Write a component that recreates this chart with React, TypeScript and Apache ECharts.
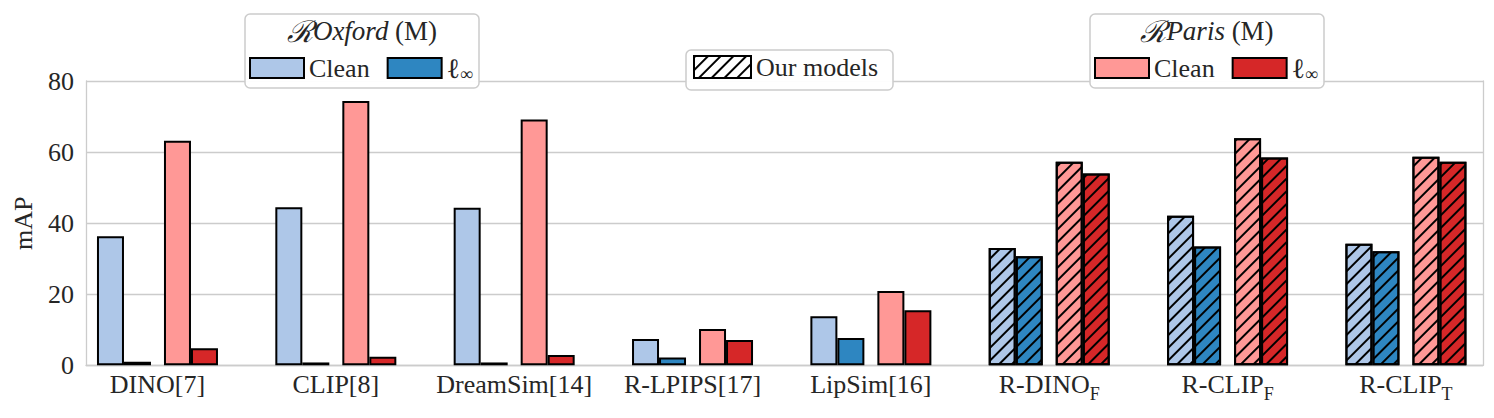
import React, { useEffect, useRef } from 'react';
import * as echarts from 'echarts';

const categories = ['DINO[7]', 'CLIP[8]', 'DreamSim[14]', 'R-LPIPS[17]', 'LipSim[16]', 'R-DINO_F', 'R-CLIP_F', 'R-CLIP_T'];
const oxfordClean = [36.3, 44.5, 44.3, 7.4, 13.8, 33.0, 42.1, 34.2];
const oxfordLinf = [1.0, 0.8, 0.8, 2.2, 7.7, 30.7, 33.4, 32.1];
const parisClean = [63.2, 74.4, 69.2, 10.2, 20.9, 57.3, 63.9, 58.7];
const parisLinf = [4.8, 2.4, 2.9, 7.1, 15.5, 54.0, 58.5, 57.3];
const isOurModel = [false, false, false, false, false, true, true, true];
const yMin = 0;
const yMax = 80;
const yInterval = 20;

const FONT = "'Liberation Serif', 'DejaVu Serif', serif";
const TEXT = '#262626';
const GRID = '#cccccc';
const LIGHT_BLUE = '#aec7e8';
const BLUE = '#2e86c1';
const LIGHT_RED = '#ff9896';
const RED = '#d62728';

const hatch = {
  symbol: 'rect',
  symbolSize: 1,
  dashArrayX: [1, 0],
  dashArrayY: [2, 7],
  rotation: -Math.PI / 4,
  color: '#000',
};

function toData(vals: number[]) {
  return vals.map((v, i) => (isOurModel[i] ? { value: v, itemStyle: { decal: hatch } } : { value: v }));
}

export default function App() {
  const ref = useRef<HTMLDivElement>(null);
  useEffect(() => {
    if (!ref.current) return;
    const chart = echarts.init(ref.current, undefined, { renderer: 'svg' });
    const barBase = {
      type: 'bar',
      xAxisIndex: 0,
      yAxisIndex: 0,
      barWidth: 27,
      barGap: '0%',
    };
    const border = { borderColor: '#000', borderWidth: 2 };
    const legendText = {
      fontSize: 26,
      fontFamily: FONT,
      color: TEXT,
      rich: {
        l: { fontSize: 28, fontFamily: FONT, color: TEXT },
        sub: { fontSize: 18, fontFamily: FONT, color: TEXT, padding: [12, 0, 0, 0] },
      },
    };
    const legendFmt = (name: string) => (name.endsWith('Clean') ? 'Clean' : '{l|ℓ}{sub|∞}');
    const titleRich = {
      cal: { fontSize: 30, fontFamily: "'DejaVu Serif', serif", fontStyle: 'italic', fill: TEXT },
      it: { fontSize: 27, fontFamily: FONT, fontStyle: 'italic', fill: TEXT },
      rm: { fontSize: 27, fontFamily: FONT, fill: TEXT },
    };
    const option: any = {
      animation: false,
      backgroundColor: '#fff',
      grid: [
        { left: 68.3, top: 81, width: 1426.8, height: 284.3, outerBoundsMode: 'none' },
        { left: 86, top: 81, width: 1397, height: 284.3, outerBoundsMode: 'none' },
      ],
      xAxis: [
        {
          type: 'category',
          gridIndex: 0,
          data: categories,
          axisLine: { show: false },
          axisTick: { show: false },
          splitLine: { show: false },
          axisLabel: {
            interval: 0,
            margin: 0,
            fontSize: 26,
            fontFamily: FONT,
            color: TEXT,
            lineHeight: 38,
            formatter: (v: string) => {
              const parts = v.split('_');
              return parts.length > 1 ? `${parts[0]}{sub|${parts[1]}}` : v;
            },
            rich: { sub: { fontSize: 18, fontFamily: FONT, color: TEXT, padding: [19, 0, 0, 0] } },
          },
        },
        {
          type: 'value',
          gridIndex: 1,
          min: 0,
          max: 1,
          axisLine: { show: true, lineStyle: { color: GRID, width: 1.3 } },
          axisTick: { show: false },
          axisLabel: { show: false },
          splitLine: { show: false },
        },
      ],
      yAxis: [
        { type: 'value', gridIndex: 0, min: yMin, max: yMax, interval: yInterval, show: false, splitLine: { show: false } },
        {
          type: 'value',
          gridIndex: 1,
          min: yMin,
          max: yMax,
          interval: yInterval,
          axisLine: { show: true, lineStyle: { color: GRID, width: 1.3 } },
          axisTick: { show: false },
          axisLabel: { fontSize: 26, fontFamily: FONT, color: TEXT, margin: 12 },
          splitLine: { show: true, lineStyle: { color: GRID, width: 1.3 } },
          name: 'mAP',
          nameLocation: 'middle',
          nameGap: 50,
          nameRotate: 90,
          nameTextStyle: { fontSize: 26, fontFamily: FONT, color: TEXT },
        },
        {
          type: 'value',
          gridIndex: 1,
          position: 'right',
          min: yMin,
          max: yMax,
          interval: yInterval,
          axisLine: { show: true, lineStyle: { color: GRID, width: 1.3 } },
          axisTick: { show: false },
          axisLabel: { show: false },
          splitLine: { show: false },
        },
      ],
      legend: [
        {
          data: ['Oxford Clean', 'Oxford ℓ∞'],
          left: 249,
          top: 54,
          padding: 0,
          itemWidth: 54,
          itemHeight: 20,
          itemGap: 17,
          icon: 'rect',
          selectedMode: false,
          z: 20,
          formatter: legendFmt,
          textStyle: legendText,
        },
        {
          data: ['Our models'],
          left: 693,
          top: 54,
          padding: 0,
          itemWidth: 57,
          itemHeight: 22,
          icon: 'rect',
          selectedMode: false,
          z: 20,
          textStyle: legendText,
        },
        {
          data: ['Paris Clean', 'Paris ℓ∞'],
          left: 1094,
          top: 54,
          padding: 0,
          itemWidth: 54,
          itemHeight: 20,
          itemGap: 17,
          icon: 'rect',
          selectedMode: false,
          z: 20,
          formatter: legendFmt,
          textStyle: legendText,
        },
      ],
      graphic: [
        {
          type: 'rect',
          z: 10,
          shape: { x: 245, y: 14, width: 234, height: 74, r: 5 },
          style: { fill: 'rgba(255,255,255,0.95)', stroke: GRID, lineWidth: 1.5 },
        },
        {
          type: 'text',
          z: 11,
          x: 362,
          y: 31,
          style: {
            text: '{cal|ℛ}{it|Oxford}{rm| (M)}',
            fontSize: 27,
            fontFamily: FONT,
            fill: TEXT,
            align: 'center',
            verticalAlign: 'middle',
            rich: titleRich,
          },
        },
        {
          type: 'rect',
          z: 10,
          shape: { x: 686, y: 50, width: 207, height: 40, r: 5 },
          style: { fill: 'rgba(255,255,255,0.95)', stroke: GRID, lineWidth: 1.5 },
        },
        {
          type: 'rect',
          z: 10,
          shape: { x: 1090, y: 14, width: 234, height: 74, r: 5 },
          style: { fill: 'rgba(255,255,255,0.95)', stroke: GRID, lineWidth: 1.5 },
        },
        {
          type: 'text',
          z: 11,
          x: 1207,
          y: 31,
          style: {
            text: '{cal|ℛ}{it|Paris}{rm| (M)}',
            fontSize: 27,
            fontFamily: FONT,
            fill: TEXT,
            align: 'center',
            verticalAlign: 'middle',
            rich: titleRich,
          },
        },
      ],
      series: [
        { ...barBase, name: 'Oxford Clean', itemStyle: { color: LIGHT_BLUE, ...border }, data: toData(oxfordClean) },
        { ...barBase, name: 'Oxford ℓ∞', itemStyle: { color: BLUE, ...border }, data: toData(oxfordLinf) },
        {
          ...barBase,
          name: 'Our models',
          barWidth: 13,
          itemStyle: { color: '#fff', ...border, decal: hatch },
          data: [],
        },
        { ...barBase, name: 'Paris Clean', itemStyle: { color: LIGHT_RED, ...border }, data: toData(parisClean) },
        { ...barBase, name: 'Paris ℓ∞', itemStyle: { color: RED, ...border }, data: toData(parisLinf) },
      ],
    };
    chart.setOption(option);
    return () => chart.dispose();
  }, []);
  return (
    <div
      ref={ref}
      style={{ position: 'absolute', left: 0, top: 0, width: 1494, height: 418, background: '#fff' }}
    />
  );
}
